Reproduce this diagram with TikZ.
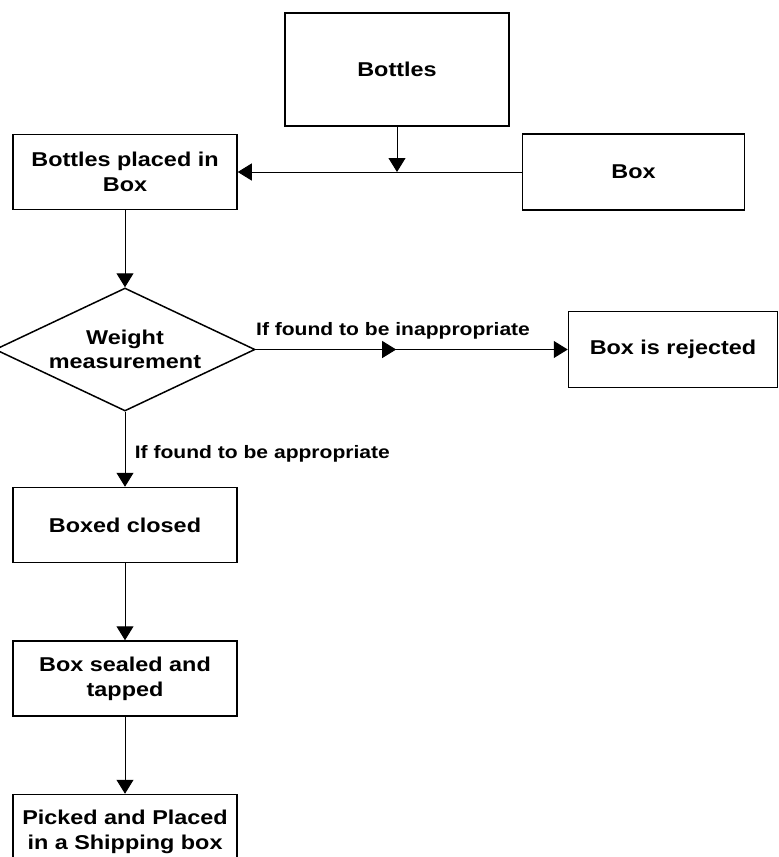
\documentclass[tikz,border=0pt]{standalone}
\usepackage{fontspec}
\setmainfont[FakeStretch=1.17]{Liberation Sans}
\usepackage{tikz}
\usetikzlibrary{shapes,arrows,positioning,calc,decorations.markings,arrows.meta}

\tikzset{
  stepbox/.style={draw, line width=1.5pt, rectangle, minimum width=224pt, minimum height=75pt, align=center, inner sep=2pt, font=\fontsize{20}{25}\selectfont\bfseries},
  decision/.style={draw, line width=1.5pt, diamond, aspect=2.1, minimum width=260pt, minimum height=123pt, inner sep=0pt, align=center, font=\fontsize{20}{24}\selectfont\bfseries},
  flow/.style={line width=1pt, -{Triangle[length=14pt,width=17pt]}},
  lbl/.style={font=\fontsize{18}{20}\selectfont\bfseries}
}

\begin{document}
\begin{tikzpicture}[x=1pt, y=-1pt]
    \useasboundingbox (0,0) rectangle (779,857);
    \clip (0,0) rectangle (779,857);

    % Bottles at top
    \node [stepbox, minimum height=113pt] (bottles) at (397,69.5) {Bottles};

    % Bottles placed in Box on the left
    \node [stepbox] (placed) at (125,172) {Bottles placed in\\Box};

    % Box on the right
    \node [stepbox, minimum width=222pt, minimum height=76pt, right=284pt of placed] (box) {Box};

    % Junction point below Bottles
    \coordinate (junction) at (bottles |- box);

    % Weight measurement decision
    \node [decision, below=77pt of placed] (weight) {Weight\\measurement};

    % Rejected box to the right
    \node [stepbox, minimum width=209pt, minimum height=76pt, right=312pt of weight] (reject) {Box is rejected};

    % Steps below the decision
    \node [stepbox, below=75pt of weight] (closed) {Boxed closed};
    \node [stepbox, below=77pt of closed] (sealed) {Box sealed and\\tapped};
    \node [stepbox, below=77pt of sealed] (picked) {Picked and Placed\\in a Shipping box};

    % Connections
    \draw [flow] (bottles) -- (junction);
    \draw [flow] (box) -- (placed);
    \draw [flow] (placed) -- (weight);
    \draw [flow, postaction={decorate}, decoration={markings, mark=at position 0.45 with {\arrow{Triangle[length=14pt,width=17pt]}}}]
        (weight) -- node [lbl, pos=0.44, above=6pt] {If found to be inappropriate} (reject);
    \draw [flow] (weight) -- node [lbl, pos=0.56, right=6pt] {If found to be appropriate} (closed);
    \draw [flow] (closed) -- (sealed);
    \draw [flow] (sealed) -- (picked);
\end{tikzpicture}
\end{document}
